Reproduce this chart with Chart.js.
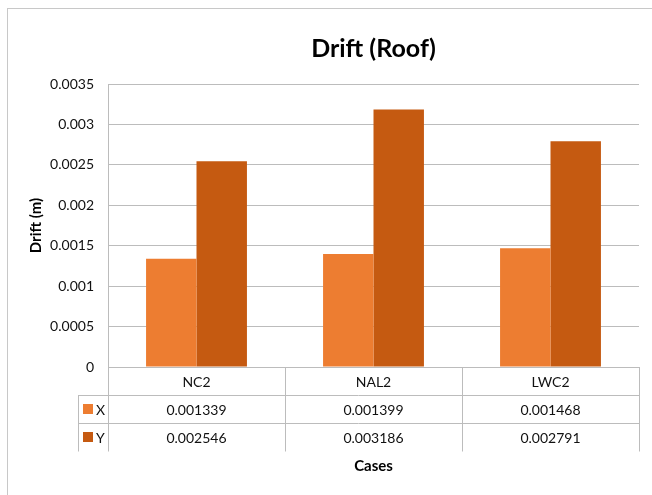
<!DOCTYPE html>
<html>
<head>
<meta charset="utf-8">
<script src="https://cdn.jsdelivr.net/npm/chart.js@4/dist/chart.umd.min.js"></script>
<style>
  html, body { margin: 0; padding: 0; background: #fff; }
</style>
</head>
<body>
<canvas id="driftChart" width="652" height="495"></canvas>
<script>
// Data
const cases = ["NC2", "NAL2", "LWC2"];
const driftX = [0.001339, 0.001399, 0.001468];
const driftY = [0.002546, 0.003186, 0.002791];
const seriesNames = ["X", "Y"];
const seriesColors = ["#ED7D31", "#C55A11"];

const FONT = "Lato, 'Open Sans', sans-serif";
const lineColor = "#bcbcbc";

// draws the frame and the data table under the plot
const dataTablePlugin = {
    id: "dataTable",
    beforeDraw(chart) {
        const c = chart.ctx;
        c.save();
        c.strokeStyle = "#c8c8c8";
        c.lineWidth = 1;
        c.strokeRect(7.5, 8.5, 800, 800);
        c.restore();
    },
    afterDraw(chart) {
        const c = chart.ctx;
        const area = chart.chartArea;
        const xs = chart.scales.x;
        const n = cases.length;
        const colW = (area.right - area.left) / n;
        const rowH = 28;
        const top = area.bottom;
        const legendLeft = area.left - 30;
        const rows = [driftX, driftY];

        c.save();
        c.strokeStyle = lineColor;
        c.lineWidth = 1;
        c.beginPath();
        // horizontal lines
        c.moveTo(area.left, top + 0.5);
        c.lineTo(area.right, top + 0.5);
        for (let r = 1; r <= rows.length + 0; r++) {
            const y = Math.round(top + rowH * r) + 0.5;
            c.moveTo(legendLeft, y);
            c.lineTo(area.right, y);
        }
        // vertical lines
        const bottom = Math.round(top + rowH * (rows.length + 1)) + 0.5;
        for (let i = 0; i <= n; i++) {
            const x = Math.round(area.left + colW * i) + 0.5;
            c.moveTo(x, top);
            c.lineTo(x, bottom);
        }
        c.moveTo(legendLeft + 0.5, top + rowH);
        c.lineTo(legendLeft + 0.5, bottom);
        c.stroke();

        c.fillStyle = "#111";
        c.font = "14px " + FONT;
        c.textAlign = "center";
        c.textBaseline = "middle";
        cases.forEach((name, i) => {
            c.fillText(name, xs.getPixelForValue(i), top + rowH / 2 + 1);
        });
        rows.forEach((vals, r) => {
            const yMid = top + rowH * (r + 1) + rowH / 2 + 1;
            vals.forEach((v, i) => {
                c.fillText(v.toFixed(6), xs.getPixelForValue(i), yMid);
            });
            c.fillStyle = seriesColors[r];
            c.fillRect(legendLeft + 5, yMid - 6, 10, 10);
            c.fillStyle = "#111";
            c.textAlign = "left";
            c.fillText(seriesNames[r], legendLeft + 18, yMid);
            c.textAlign = "center";
        });
        c.restore();
    }
};

new Chart(document.getElementById("driftChart"), {
    type: "bar",
    data: {
        labels: cases,
        datasets: [
            { label: seriesNames[0], data: driftX, backgroundColor: seriesColors[0] },
            { label: seriesNames[1], data: driftY, backgroundColor: seriesColors[1] }
        ]
    },
    options: {
        responsive: false,
        animation: false,
        layout: { padding: { left: 8, right: 13, top: 0, bottom: 10 } },
        datasets: { bar: { categoryPercentage: 0.57, barPercentage: 1.0 } },
        plugins: {
            legend: { display: false },
            tooltip: { enabled: false },
            title: {
                display: true,
                text: "Drift (Roof)",
                fullSize: false,
                color: "#000",
                font: { family: FONT, size: 25, weight: "bold" },
                padding: { top: 34, bottom: 20 }
            }
        },
        scales: {
            x: {
                grid: { display: false, drawTicks: false },
                border: { display: false },
                ticks: { display: false },
                title: {
                    display: true,
                    text: "Cases",
                    color: "#000",
                    font: { family: FONT, size: 15, weight: "bold" },
                    padding: { top: 0, bottom: 10 }
                },
                afterFit(scale) { scale.height = 118; }
            },
            y: {
                min: 0,
                max: 0.0035,
                grid: { color: lineColor, drawTicks: false },
                border: { color: lineColor },
                ticks: {
                    stepSize: 0.0005,
                    padding: 14,
                    color: "#111",
                    font: { family: FONT, size: 14 },
                    callback: (value) => String(+value.toFixed(4))
                },
                title: {
                    display: true,
                    text: "Drift (m)",
                    color: "#000",
                    font: { family: FONT, size: 15, weight: "bold" },
                    padding: { top: 19, bottom: 0 }
                },
                afterFit(scale) { scale.width = 100; }
            }
        }
    },
    plugins: [dataTablePlugin]
});
</script>
</body>
</html>
